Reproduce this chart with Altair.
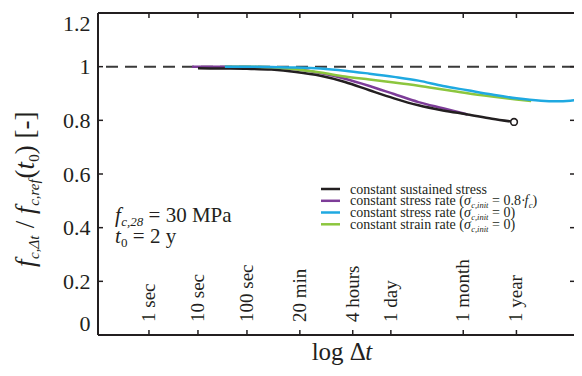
import altair as alt
import pandas as pd
import numpy as np

# ---------------- data ----------------
tick_labels = ["1 sec", "10 sec", "100 sec", "20 min", "4 hours", "1 day", "1 month", "1 year"]
tick_seconds = [1, 10, 100, 1200, 14400, 86400, 2592000, 31557600]

y_tick_values = [0, 0.2, 0.4, 0.6, 0.8, 1.0, 1.2]
ref_ratio = [1.0]

# log10(delta t [s]) and strength ratio
black_logt = [1.0, 1.5, 2.0, 2.5, 3.0, 3.5, 4.0, 4.5, 5.0, 5.5, 6.0, 6.5, 7.0, 7.45]
black_ratio = [0.994, 0.993, 0.992, 0.989, 0.980, 0.966, 0.943, 0.912, 0.882, 0.856, 0.837, 0.822, 0.806, 0.794]

purple_logt = [0.88, 1.5, 2.0, 2.5, 3.0, 3.5, 4.0, 4.5, 5.0, 5.5, 6.0, 6.5]
purple_ratio = [1.0, 1.0, 0.999, 0.996, 0.990, 0.976, 0.955, 0.928, 0.898, 0.868, 0.845, 0.822]

blue_logt = [1.55, 2.0, 2.5, 3.0, 3.5, 4.0, 4.5, 5.0, 5.5, 6.0, 6.5, 7.0, 7.5, 8.0, 8.3, 8.6, 8.82]
blue_ratio = [1.0, 1.0, 0.999, 0.997, 0.993, 0.985, 0.974, 0.962, 0.948, 0.928, 0.912, 0.896, 0.882, 0.873, 0.871, 0.873, 0.880]

green_logt = [1.55, 2.0, 2.5, 3.0, 3.5, 4.0, 4.5, 5.0, 5.5, 6.0, 6.5, 7.0, 7.5, 7.8]
green_ratio = [1.0, 1.0, 0.998, 0.990, 0.978, 0.963, 0.952, 0.941, 0.929, 0.915, 0.901, 0.889, 0.878, 0.872]

legend_labels = ["constant sustained stress", "constant stress rate (", "constant stress rate (", "constant strain rate ("]
legend_tails = [None, " = 0.8·", " = 0)", " = 0)"]

# ---------------- style ----------------
FONT = "Liberation Serif"
INK = "#231f20"
C_BLACK = "#231f20"
C_PURPLE = "#7d3c98"
C_BLUE = "#1fa9e1"
C_GREEN = "#8cc63e"
W, H = 476, 322
OX, OY = 98, 13  # page position of plot origin
x_dom = [-1.04, 8.674]

xs = alt.Scale(domain=x_dom, nice=False, zero=False)
ys = alt.Scale(domain=[0, 1.2], nice=False, zero=False)
yaxis = alt.Axis(values=y_tick_values, format="~g", labelFont=FONT, labelFontSize=22,
                 labelColor=INK, domain=False, ticks=False, grid=False, title=None,
                 labelPadding=8, labelFlush=True)

one = pd.DataFrame({"k": [0]})

# Times / Liberation Serif advance widths (per 1000 em)
TW = {" ": 250, "(": 333, ")": 333, "/": 278, "[": 333, "]": 333, "-": 333, "=": 564,
      ".": 250, "·": 250, ",": 250, "Δ": 612, "σ": 549, "M": 889, "P": 556,
      "a": 444, "c": 444, "d": 500, "e": 444, "f": 333, "g": 500, "i": 278, "l": 278,
      "n": 500, "o": 500, "r": 333, "s": 389, "t": 278, "u": 500, "y": 500, "m": 778, "h": 500}
TWI = {"f": 300, "t": 290, "c": 444, "i": 278, "n": 500, "r": 389, "e": 444, "σ": 520, "Δ": 612}


def tw(s, size, italic=False):
    tot = 0
    for ch in s:
        if ch.isdigit():
            w = 500
        elif italic and ch in TWI:
            w = TWI[ch]
        else:
            w = TW.get(ch, 500)
        tot += w
    return tot * size / 1000.0


def txt(s, x, y, size, italic=False, angle=0, align="left", baseline="alphabetic", color=INK):
    kw = dict(font=FONT, fontSize=size, color=color, align=align, baseline=baseline)
    if italic:
        kw["fontStyle"] = "italic"
    if angle:
        kw["angle"] = angle
    return alt.Chart(one).mark_text(**kw).encode(
        x=alt.value(x), y=alt.value(y), text=alt.value(s))


def split_lead(s):
    body = s.lstrip(" ")
    return s[:len(s) - len(body)], body


def hrun(pieces, x0, y0):
    out = []
    x = x0
    for s, size, it, dy in pieces:
        lead, body = split_lead(s)
        x += tw(lead, size, it)
        out.append(txt(body, x, y0 + dy, size, it))
        x += tw(body, size, it)
    return out


def vrun(pieces, y0, x0):
    out = []
    y = y0
    for s, size, it, dx in pieces:
        lead, body = split_lead(s)
        y -= tw(lead, size, it)
        out.append(txt(body, x0 + dx, y, size, it, angle=270))
        y -= tw(body, size, it)
    return out


def curve(xv, yv, color):
    return alt.Chart(pd.DataFrame({"t": xv, "r": yv})).mark_line(
        color=color, strokeWidth=2.5, interpolate="monotone", clip=True).encode(
        x=alt.X("t:Q", scale=xs, axis=None),
        y=alt.Y("r:Q", scale=ys, axis=yaxis))


ticks_df = pd.DataFrame({"label": tick_labels, "pos": np.log10(tick_seconds)})
yt_df = pd.DataFrame({"v": y_tick_values})

layers = []

# reference dashed line
layers.append(alt.Chart(pd.DataFrame({"v": ref_ratio})).mark_rule(
    color="#3a3a3a", strokeWidth=2, strokeDash=[12, 7]).encode(
    y=alt.Y("v:Q", scale=ys, axis=yaxis)))

# curves
layers.append(curve(purple_logt, purple_ratio, C_PURPLE))
layers.append(curve(black_logt, black_ratio, C_BLACK))
layers.append(curve(green_logt, green_ratio, C_GREEN))
layers.append(curve(blue_logt, blue_ratio, C_BLUE))

# end marker
layers.append(alt.Chart(pd.DataFrame({"t": [black_logt[-1]], "r": [black_ratio[-1]]})).mark_point(
    shape="circle", filled=True, fill="white", stroke=INK, strokeWidth=1.6, size=45, opacity=1).encode(
    x=alt.X("t:Q", scale=xs, axis=None), y=alt.Y("r:Q", scale=ys, axis=yaxis)))

# frame (left, bottom, top)
layers.append(alt.Chart(one).mark_rule(color=INK, strokeWidth=2).encode(
    x=alt.value(0), x2=alt.value(W), y=alt.value(0)))
layers.append(alt.Chart(one).mark_rule(color=INK, strokeWidth=2).encode(
    x=alt.value(0), x2=alt.value(W), y=alt.value(H)))
layers.append(alt.Chart(one).mark_rule(color=INK, strokeWidth=2).encode(
    x=alt.value(0), y=alt.value(0), y2=alt.value(H)))

# inward ticks
layers.append(alt.Chart(yt_df).mark_rule(color=INK, strokeWidth=1.5).encode(
    y=alt.Y("v:Q", scale=ys, axis=yaxis), x=alt.value(0), x2=alt.value(5)))
layers.append(alt.Chart(yt_df).mark_rule(color=INK, strokeWidth=1.5).encode(
    y=alt.Y("v:Q", scale=ys, axis=yaxis), x=alt.value(W - 4), x2=alt.value(W)))
layers.append(alt.Chart(ticks_df).mark_rule(color=INK, strokeWidth=1.5).encode(
    x=alt.X("pos:Q", scale=xs, axis=None), y=alt.value(H), y2=alt.value(H - 5)))
layers.append(alt.Chart(ticks_df).mark_rule(color=INK, strokeWidth=1.5).encode(
    x=alt.X("pos:Q", scale=xs, axis=None), y=alt.value(0), y2=alt.value(5)))

# time labels inside the plot
layers.append(alt.Chart(ticks_df).mark_text(
    font=FONT, fontSize=19, color=INK, angle=270, align="left", baseline="middle").encode(
    x=alt.X("pos:Q", scale=xs, axis=None), y=alt.value(H - 13), text="label:N"))

# x title
xt_pieces = [("log Δ", 25, False, 0), ("t", 25, True, 0)]
xt_w = sum(tw(s, z, i) for s, z, i, _ in xt_pieces)
layers += hrun(xt_pieces, 342 - OX - xt_w / 2, 360 - OY)

# y title (vertical)
yt_pieces = [("f", 27, True, 0), ("c,Δt", 15, True, 5), (" /", 27, False, 0),
             (" f", 27, True, 0), ("c,ref", 15, True, 5), ("(", 27, False, 0),
             ("t", 27, True, 0), ("0", 15, False, 5), (")", 27, False, 0), (" [-]", 27, False, 0)]
layers += vrun(yt_pieces, 267 - OY, 34 - OX)

# annotations
layers += hrun([("f", 21, True, 0), ("c,28", 13, True, 4), (" = 30 MPa", 21, False, 0)], 115 - OX, 222 - OY)
layers += hrun([("t", 21, True, 0), ("0", 13, False, 4), (" = 2 y", 21, False, 0)], 115 - OX, 243 - OY)

# manual legend
leg_colors = [C_BLACK, C_PURPLE, C_BLUE, C_GREEN]
row_y = [189, 200.8, 212.5, 224.3]
for i, (lab, tail, col) in enumerate(zip(legend_labels, legend_tails, leg_colors)):
    yy = row_y[i] - OY
    layers.append(alt.Chart(one).mark_rule(color=col, strokeWidth=2.5).encode(
        x=alt.value(321 - OX), x2=alt.value(340 - OX), y=alt.value(yy)))
    pcs = [(lab, 14, False, 0)]
    if tail is not None:
        pcs += [("σ", 14, True, 0), ("c,init", 8.5, True, 3)]
        if i == 1:
            pcs += [(tail, 14, False, 0), ("f", 14, True, 0), ("c", 8.5, True, 3), (")", 14, False, 0)]
        else:
            pcs += [(tail, 14, False, 0)]
    layers += hrun(pcs, 350 - OX, yy + 4.5)

chart = alt.layer(*layers).properties(
    width=W, height=H,
    autosize=alt.AutoSizeParams(type="none"),
    padding={"left": 90, "top": 5, "right": 0, "bottom": 31},
    background="white",
).configure_view(stroke=None)

chart.save("out.html", embed_options={"renderer": "svg", "actions": False})
